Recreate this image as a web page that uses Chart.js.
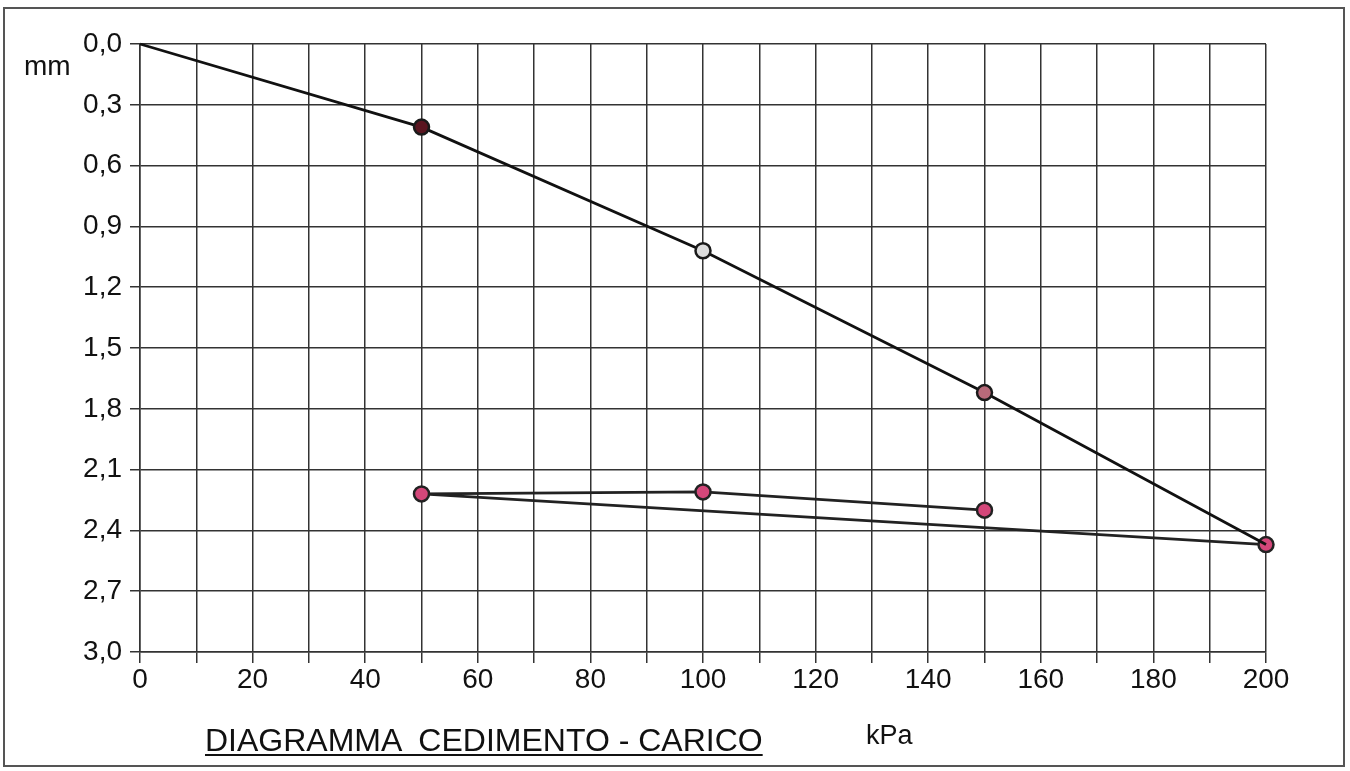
<!DOCTYPE html>
<html>
<head>
<meta charset="utf-8">
<script src="https://cdn.jsdelivr.net/npm/chart.js@4.4.1/dist/chart.umd.min.js"></script>
<style>
  body { margin: 0; background: #fff; }
  #wrap { position: relative; width: 1350px; height: 771px; font-family: "Liberation Sans", Arial, sans-serif; color: #111; }
  #frame { position: absolute; left: 3px; top: 7px; width: 1342px; height: 760px; border: 2px solid #555; box-sizing: border-box; }
  .lbl { position: absolute; white-space: pre; line-height: 1; }
  #mm { left: 24px; top: 52px; font-size: 28px; }
  #kpa { left: 866px; top: 722px; font-size: 27px; }
  #title { left: 205px; top: 724px; font-size: 32px; text-decoration: underline; text-decoration-thickness: 2px; text-underline-offset: 3px; }
</style>
</head>
<body>
<div id="wrap">
  <canvas id="stage" width="1350" height="771"></canvas>
  <div id="frame"></div>
  <div class="lbl" id="mm">mm</div>
  <div class="lbl" id="kpa">kPa</div>
  <div class="lbl" id="title">DIAGRAMMA  CEDIMENTO - CARICO</div>
</div>
<script>
// carico (kPa) / cedimento (mm) - fase di carico
const loadKPa = [0, 50, 100, 150, 200];
const loadMm = [0, 0.41, 1.02, 1.72, 2.47];
// scarico e ricarico
const cycleKPa = [200, 50, 100, 150];
const cycleMm = [2.47, 2.22, 2.21, 2.30];
// etichette asse y (passo 0,3)
const yTickLabels = ['0,0', '0,3', '0,6', '0,9', '1,2', '1,5', '1,8', '2,1', '2,4', '2,7', '3,0'];

const toPoints = (xs, ys) => xs.map((x, i) => ({ x: x, y: ys[i] }));

const gridColor = '#333';
const tickFont = { family: '"Liberation Sans", Arial, sans-serif', size: 28 };

const chart = new Chart(document.getElementById('stage'), {
  type: 'scatter',
  data: {
    datasets: [
      {
        data: toPoints(loadKPa, loadMm),
        showLine: true,
        clip: false,
        borderColor: '#111',
        borderWidth: 2.8,
        pointRadius: [0, 7.5, 7.5, 7.5, 0],
        pointBackgroundColor: ['#000', '#5a1520', '#ddd', '#b86a7a', '#000'],
        pointBorderColor: '#1a1a1a',
        pointBorderWidth: 2.5
      },
      {
        data: toPoints(cycleKPa, cycleMm),
        showLine: true,
        clip: false,
        borderColor: '#222',
        borderWidth: 2.8,
        pointRadius: 7.5,
        pointBackgroundColor: '#d4477a',
        pointBorderColor: '#222',
        pointBorderWidth: 2.5
      }
    ]
  },
  options: {
    responsive: false,
    devicePixelRatio: 1,
    animation: false,
    layout: { padding: { top: 44, right: 84, bottom: 0, left: 0 } },
    plugins: { legend: { display: false }, tooltip: { enabled: false } },
    scales: {
      x: {
        type: 'linear',
        min: 0,
        max: 200,
        afterFit: (scale) => { scale.height = 119; },
        grid: { color: gridColor, lineWidth: 1.5, tickLength: 11, tickColor: gridColor },
        border: { color: gridColor, width: 1.5 },
        ticks: {
          stepSize: 10,
          autoSkip: false,
          maxRotation: 0,
          padding: 0,
          color: '#111',
          font: tickFont,
          callback: (v) => (v % 20 === 0 ? String(v) : '')
        }
      },
      y: {
        type: 'linear',
        min: 0,
        max: 3,
        reverse: true,
        afterFit: (scale) => { scale.width = 140; },
        grid: { color: gridColor, lineWidth: 1.5, tickLength: 10, tickColor: gridColor },
        border: { color: gridColor, width: 1.5 },
        ticks: {
          stepSize: 0.3,
          padding: 8,
          color: '#111',
          font: tickFont,
          callback: (v) => yTickLabels[Math.round(v / 0.3)]
        }
      }
    }
  }
});
</script>
</body>
</html>
